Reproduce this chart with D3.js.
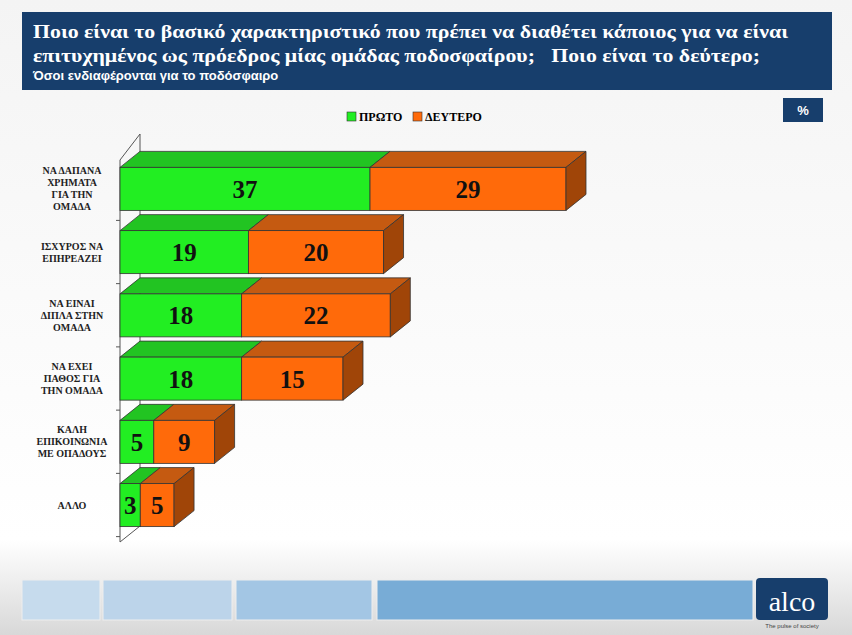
<!DOCTYPE html>
<html><head><meta charset="utf-8">
<script src="https://cdn.jsdelivr.net/npm/d3@7"></script>
<style>body{margin:0;background:#fff}</style>
</head><body>
<svg id="chart" width="852" height="635"></svg>
<script>
const categories = [["ΝΑ ΔΑΠΑΝΑ","ΧΡΗΜΑΤΑ","ΓΙΑ ΤΗΝ","ΟΜΑΔΑ"],["ΙΣΧΥΡΟΣ ΝΑ","ΕΠΗΡΕΑΖΕΙ"],["ΝΑ ΕΙΝΑΙ","ΔΙΠΛΑ ΣΤΗΝ","ΟΜΑΔΑ"],["ΝΑ ΕΧΕΙ","ΠΑΘΟΣ ΓΙΑ","ΤΗΝ ΟΜΑΔΑ"],["ΚΑΛΗ","ΕΠΙΚΟΙΝΩΝΙΑ","ΜΕ ΟΠΑΔΟΥΣ"],["ΑΛΛΟ"]];
const first = [37, 19, 18, 18, 5, 3];
const second = [29, 20, 22, 15, 9, 5];
const seriesNames = ["ΠΡΩΤΟ", "ΔΕΥΤΕΡΟ"];

const svg = d3.select("#chart");
const defs = svg.append("defs");
const bg = defs.append("linearGradient").attr("id","bg").attr("x1",0).attr("y1",0).attr("x2",0).attr("y2",1);
bg.append("stop").attr("offset","0").attr("stop-color","#f4f4f4");
bg.append("stop").attr("offset","0.85").attr("stop-color","#ffffff");
bg.append("stop").attr("offset","1").attr("stop-color","#d8d8d8");
svg.append("rect").attr("width",852).attr("height",635).attr("fill","url(#bg)");

// header
svg.append("rect").attr("x",22).attr("y",12).attr("width",810).attr("height",78).attr("fill","#173e6c");
const title = svg.append("text").attr("fill","#fff").attr("font-family","Liberation Serif").attr("font-weight","bold").attr("font-size",19);
title.append("tspan").attr("x",33).attr("y",38).attr("textLength",755).attr("lengthAdjust","spacingAndGlyphs").text("Ποιο είναι το βασικό χαρακτηριστικό που πρέπει να διαθέτει κάποιος για να είναι");
title.append("tspan").attr("x",33).attr("y",62).attr("textLength",727).attr("lengthAdjust","spacingAndGlyphs").attr("xml:space","preserve").text("επιτυχημένος ως πρόεδρος μίας ομάδας ποδοσφαίρου;   Ποιο είναι το δεύτερο;");
svg.append("text").attr("x",33).attr("y",80).attr("fill","#fff").attr("font-family","Liberation Sans").attr("font-weight","bold").attr("font-size",13).text("Όσοι ενδιαφέρονται για το ποδόσφαιρο");

svg.append("rect").attr("x",783).attr("y",98).attr("width",40).attr("height",24).attr("fill","#173e6c");
svg.append("text").attr("x",803).attr("y",115).attr("text-anchor","middle").attr("fill","#fff").attr("font-family","Liberation Sans").attr("font-weight","bold").attr("font-size",13).text("%");

const frontCol = ["#22ee22", "#ff6a0a"], topCol = ["#22c422", "#c55a11"], sideCol = ["#1a9a1a", "#a04508"];

// legend
[[347, 0], [413, 1]].forEach(([lx, i]) => {
  svg.append("rect").attr("x",lx).attr("y",112).attr("width",9).attr("height",9).attr("fill",frontCol[i]).attr("stroke","#333").attr("stroke-width",0.6);
  svg.append("text").attr("x",lx+12).attr("y",121).attr("font-family","Liberation Serif").attr("font-weight","bold").attr("font-size",12).text(seriesNames[i]);
});

const x = d3.scaleLinear().domain([0, 66]).range([120, 566]);
const y = d3.scaleBand().domain(d3.range(categories.length)).range([156, 538]).paddingInner(0.32).paddingOuter(0.18);
const dx = 20, dy = 16;

// axis wall
svg.append("path").attr("d",`M120,${y.range()[1]+4}V${y.range()[0]+4}L${120+dx},${y.range()[0]+4-dy-10}V${y.range()[1]+4-dy}Z`)
  .attr("fill","none").attr("stroke","#555").attr("stroke-width",1);
y.domain().forEach(i => {
  const yy = y(i) + y.bandwidth() + 10;
  svg.append("line").attr("x1",116).attr("x2",120).attr("y1",yy).attr("y2",yy).attr("stroke","#555");
});

const g = svg.append("g");
categories.forEach((c, i) => {
  const vals = [first[i], second[i]];
  const y0 = y(i), h = y.bandwidth();
  let start = 0;
  const segs = vals.map(v => { const s = {a: start, b: start + v, v}; start += v; return s; });
  segs.forEach((s, k) => {
    const xa = x(s.a), xb = x(s.b);
    g.append("path").attr("d",`M${xa},${y0}L${xa+dx},${y0-dy}L${xb+dx},${y0-dy}L${xb},${y0}Z`)
      .attr("fill",topCol[k]).attr("stroke","#333").attr("stroke-width",0.8);
    g.append("rect").attr("x",xa).attr("y",y0).attr("width",xb-xa).attr("height",h)
      .attr("fill",frontCol[k]).attr("stroke","#333").attr("stroke-width",0.8);
    g.append("text").attr("x",(xa+xb)/2).attr("y",y0+h/2+9).attr("text-anchor","middle")
      .attr("font-family","Liberation Serif").attr("font-weight","bold").attr("font-size",25).attr("fill","#111").text(s.v);
  });
  const xe = x(start);
  g.append("path").attr("d",`M${xe},${y0}L${xe+dx},${y0-dy}L${xe+dx},${y0-dy+h}L${xe},${y0+h}Z`)
    .attr("fill",sideCol[1]).attr("stroke","#333").attr("stroke-width",0.8);
  const t = svg.append("text").attr("text-anchor","middle").attr("font-family","Liberation Serif").attr("font-weight","bold").attr("font-size",10).attr("fill","#222");
  const cy = y0 + h/2 - (c.length-1)*6;
  c.forEach((line, j) => t.append("tspan").attr("x",72).attr("y",cy + j*12 + 3.5).text(line));
});

// footer
[[22,78,"#c6dbed"],[103,129,"#bcd4ea"],[236,136,"#a3c6e4"],[377,376,"#78acd6"]].forEach(([fx,w,c]) =>
  svg.append("rect").attr("x",fx).attr("y",580).attr("width",w).attr("height",40).attr("fill",c).attr("stroke","#eee"));
svg.append("rect").attr("x",756).attr("y",578).attr("width",72).attr("height",42).attr("rx",4).attr("fill","#173e6c");
svg.append("text").attr("x",792).attr("y",611).attr("text-anchor","middle").attr("fill","#fff").attr("font-family","Liberation Serif").attr("font-size",28).text("alco");
svg.append("text").attr("x",792).attr("y",628).attr("text-anchor","middle").attr("fill","#444").attr("font-family","Liberation Sans").attr("font-size",6).text("The pulse of society");
</script>
</body></html>
